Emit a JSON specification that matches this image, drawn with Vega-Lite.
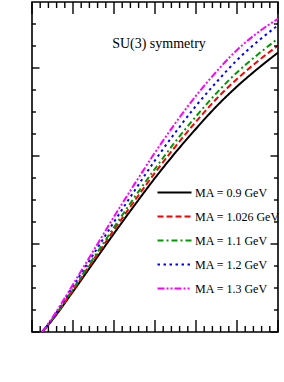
{
  "$schema": "https://vega.github.io/schema/vega-lite/v6.json",
  "width": 246,
  "height": 330,
  "autosize": "none",
  "padding": {"left": 32, "top": 2, "right": 6, "bottom": 50},
  "background": "white",
  "config": {
    "view": {"stroke": "black", "strokeWidth": 1.6},
    "axis": {"grid": false, "domain": false, "labelFont": "Liberation Serif", "titleFont": "Liberation Serif", "labelColor": "black", "titleColor": "black"}
  },
  "title": {"text": "SU(3) symmetry", "anchor": "middle", "frame": "group", "offset": -49, "dx": 4, "font": "Liberation Serif", "fontSize": 14, "fontWeight": "normal", "color": "black"},
  "datasets": {
    "xmaj": [{"t": 4}, {"t": 5}, {"t": 6}, {"t": 7}, {"t": 8}, {"t": 9}, {"t": 10}],
    "xmin": [{"t": 4.2}, {"t": 4.4}, {"t": 4.6}, {"t": 4.8}, {"t": 5.2}, {"t": 5.4}, {"t": 5.6}, {"t": 5.8}, {"t": 6.2}, {"t": 6.4}, {"t": 6.6}, {"t": 6.8}, {"t": 7.2}, {"t": 7.4}, {"t": 7.6}, {"t": 7.8}, {"t": 8.2}, {"t": 8.4}, {"t": 8.6}, {"t": 8.8}, {"t": 9.2}, {"t": 9.4}, {"t": 9.6}, {"t": 9.8}],
    "ymaj": [{"t": 0}, {"t": 0.2}, {"t": 0.4}, {"t": 0.6}],
    "ymin": [{"t": 0.05}, {"t": 0.1}, {"t": 0.15}, {"t": 0.25}, {"t": 0.3}, {"t": 0.35}, {"t": 0.45}, {"t": 0.5}, {"t": 0.55}, {"t": 0.65}, {"t": 0.7}],
    "curves": [
      {"E": 4.25, "sigma": 0.0, "MA": "MA = 0.9 GeV"},
      {"E": 4.5, "sigma": 0.028, "MA": "MA = 0.9 GeV"},
      {"E": 5.0, "sigma": 0.092, "MA": "MA = 0.9 GeV"},
      {"E": 5.5, "sigma": 0.158, "MA": "MA = 0.9 GeV"},
      {"E": 6.0, "sigma": 0.224, "MA": "MA = 0.9 GeV"},
      {"E": 6.5, "sigma": 0.288, "MA": "MA = 0.9 GeV"},
      {"E": 7.0, "sigma": 0.350, "MA": "MA = 0.9 GeV"},
      {"E": 7.5, "sigma": 0.408, "MA": "MA = 0.9 GeV"},
      {"E": 8.0, "sigma": 0.462, "MA": "MA = 0.9 GeV"},
      {"E": 8.5, "sigma": 0.513, "MA": "MA = 0.9 GeV"},
      {"E": 9.0, "sigma": 0.558, "MA": "MA = 0.9 GeV"},
      {"E": 9.5, "sigma": 0.598, "MA": "MA = 0.9 GeV"},
      {"E": 10.0, "sigma": 0.635, "MA": "MA = 0.9 GeV"},
      {"E": 4.25, "sigma": 0.0, "MA": "MA = 1.026 GeV"},
      {"E": 4.5, "sigma": 0.029, "MA": "MA = 1.026 GeV"},
      {"E": 5.0, "sigma": 0.095, "MA": "MA = 1.026 GeV"},
      {"E": 5.5, "sigma": 0.164, "MA": "MA = 1.026 GeV"},
      {"E": 6.0, "sigma": 0.232, "MA": "MA = 1.026 GeV"},
      {"E": 6.5, "sigma": 0.298, "MA": "MA = 1.026 GeV"},
      {"E": 7.0, "sigma": 0.362, "MA": "MA = 1.026 GeV"},
      {"E": 7.5, "sigma": 0.422, "MA": "MA = 1.026 GeV"},
      {"E": 8.0, "sigma": 0.478, "MA": "MA = 1.026 GeV"},
      {"E": 8.5, "sigma": 0.530, "MA": "MA = 1.026 GeV"},
      {"E": 9.0, "sigma": 0.575, "MA": "MA = 1.026 GeV"},
      {"E": 9.5, "sigma": 0.615, "MA": "MA = 1.026 GeV"},
      {"E": 10.0, "sigma": 0.651, "MA": "MA = 1.026 GeV"},
      {"E": 4.25, "sigma": 0.0, "MA": "MA = 1.1 GeV"},
      {"E": 4.5, "sigma": 0.030, "MA": "MA = 1.1 GeV"},
      {"E": 5.0, "sigma": 0.098, "MA": "MA = 1.1 GeV"},
      {"E": 5.5, "sigma": 0.168, "MA": "MA = 1.1 GeV"},
      {"E": 6.0, "sigma": 0.238, "MA": "MA = 1.1 GeV"},
      {"E": 6.5, "sigma": 0.306, "MA": "MA = 1.1 GeV"},
      {"E": 7.0, "sigma": 0.371, "MA": "MA = 1.1 GeV"},
      {"E": 7.5, "sigma": 0.433, "MA": "MA = 1.1 GeV"},
      {"E": 8.0, "sigma": 0.490, "MA": "MA = 1.1 GeV"},
      {"E": 8.5, "sigma": 0.543, "MA": "MA = 1.1 GeV"},
      {"E": 9.0, "sigma": 0.590, "MA": "MA = 1.1 GeV"},
      {"E": 9.5, "sigma": 0.630, "MA": "MA = 1.1 GeV"},
      {"E": 10.0, "sigma": 0.667, "MA": "MA = 1.1 GeV"},
      {"E": 4.25, "sigma": 0.0, "MA": "MA = 1.2 GeV"},
      {"E": 4.5, "sigma": 0.031, "MA": "MA = 1.2 GeV"},
      {"E": 5.0, "sigma": 0.104, "MA": "MA = 1.2 GeV"},
      {"E": 5.5, "sigma": 0.177, "MA": "MA = 1.2 GeV"},
      {"E": 6.0, "sigma": 0.250, "MA": "MA = 1.2 GeV"},
      {"E": 6.5, "sigma": 0.321, "MA": "MA = 1.2 GeV"},
      {"E": 7.0, "sigma": 0.390, "MA": "MA = 1.2 GeV"},
      {"E": 7.5, "sigma": 0.454, "MA": "MA = 1.2 GeV"},
      {"E": 8.0, "sigma": 0.514, "MA": "MA = 1.2 GeV"},
      {"E": 8.5, "sigma": 0.568, "MA": "MA = 1.2 GeV"},
      {"E": 9.0, "sigma": 0.618, "MA": "MA = 1.2 GeV"},
      {"E": 9.5, "sigma": 0.660, "MA": "MA = 1.2 GeV"},
      {"E": 10.0, "sigma": 0.697, "MA": "MA = 1.2 GeV"},
      {"E": 4.25, "sigma": 0.0, "MA": "MA = 1.3 GeV"},
      {"E": 4.5, "sigma": 0.033, "MA": "MA = 1.3 GeV"},
      {"E": 5.0, "sigma": 0.108, "MA": "MA = 1.3 GeV"},
      {"E": 5.5, "sigma": 0.185, "MA": "MA = 1.3 GeV"},
      {"E": 6.0, "sigma": 0.262, "MA": "MA = 1.3 GeV"},
      {"E": 6.5, "sigma": 0.336, "MA": "MA = 1.3 GeV"},
      {"E": 7.0, "sigma": 0.408, "MA": "MA = 1.3 GeV"},
      {"E": 7.5, "sigma": 0.475, "MA": "MA = 1.3 GeV"},
      {"E": 8.0, "sigma": 0.537, "MA": "MA = 1.3 GeV"},
      {"E": 8.5, "sigma": 0.592, "MA": "MA = 1.3 GeV"},
      {"E": 9.0, "sigma": 0.641, "MA": "MA = 1.3 GeV"},
      {"E": 9.5, "sigma": 0.680, "MA": "MA = 1.3 GeV"},
      {"E": 10.0, "sigma": 0.712, "MA": "MA = 1.3 GeV"}
    ]
  },
  "layer": [
    {
      "data": {"name": "curves"},
      "mark": {"type": "line", "interpolate": "monotone", "strokeWidth": 2},
      "encoding": {
        "x": {"field": "E", "type": "quantitative", "scale": {"domain": [4, 10], "nice": false, "zero": false},
          "axis": {"orient": "bottom", "values": [4, 5, 6, 7, 8, 9, 10], "format": "d", "ticks": false, "labelPadding": 4, "labelFontSize": 12, "title": "E\u03bd\u0304\u03c4 (GeV)", "titleFontSize": 16, "titleFontWeight": "normal", "titlePadding": 3}},
        "y": {"field": "sigma", "type": "quantitative", "scale": {"domain": [0, 0.75], "nice": false},
          "axis": {"orient": "left", "values": [0, 0.2, 0.4, 0.6], "format": "~g", "ticks": false, "labelPadding": 4, "labelFontSize": 12, "title": "\u03c3 (10\u207b\u2074\u2070 cm\u00b2)", "titleFontSize": 17, "titleFontWeight": "normal", "titleX": -21, "titleY": 163, "titleBaseline": "middle", "titleAngle": -90}},
        "color": {"field": "MA", "type": "nominal",
          "scale": {"domain": ["MA = 0.9 GeV", "MA = 1.026 GeV", "MA = 1.1 GeV", "MA = 1.2 GeV", "MA = 1.3 GeV"], "range": ["#000000", "#ff0000", "#009900", "#0000ff", "#ff00ff"]},
          "legend": {"orient": "none", "legendX": 133, "legendY": 181, "title": null, "symbolType": "M-2,0L2,0", "symbolSize": 289, "symbolStrokeWidth": 2, "symbolFillColor": "transparent", "labelFont": "Liberation Serif", "labelFontSize": 12, "labelColor": "black", "labelOffset": 11, "rowPadding": 8, "padding": 0}},
        "strokeDash": {"field": "MA", "type": "nominal",
          "scale": {"domain": ["MA = 0.9 GeV", "MA = 1.026 GeV", "MA = 1.1 GeV", "MA = 1.2 GeV", "MA = 1.3 GeV"], "range": [[1, 0], [6, 3], [6, 3, 2, 3], [2.5, 3.5], [7, 2, 2, 2, 2, 2]]},
          "legend": {"orient": "none", "legendX": 133, "legendY": 181, "title": null, "symbolType": "M-2,0L2,0", "symbolSize": 289, "symbolStrokeWidth": 2, "symbolFillColor": "transparent", "labelFont": "Liberation Serif", "labelFontSize": 12, "labelColor": "black", "labelOffset": 11, "rowPadding": 8, "padding": 0}}
      }
    },
    {
      "data": {"name": "xmaj"},
      "mark": {"type": "tick", "orient": "vertical", "size": 12, "thickness": 1.4, "color": "black", "opacity": 1, "yOffset": -6},
      "encoding": {"x": {"field": "t", "type": "quantitative", "axis": null}, "y": {"datum": 0, "type": "quantitative", "axis": null}}
    },
    {
      "data": {"name": "xmin"},
      "mark": {"type": "tick", "orient": "vertical", "size": 6, "thickness": 1.4, "color": "black", "opacity": 1, "yOffset": -3},
      "encoding": {"x": {"field": "t", "type": "quantitative", "axis": null}, "y": {"datum": 0, "type": "quantitative", "axis": null}}
    },
    {
      "data": {"name": "xmaj"},
      "mark": {"type": "tick", "orient": "vertical", "size": 12, "thickness": 1.4, "color": "black", "opacity": 1, "yOffset": 6},
      "encoding": {"x": {"field": "t", "type": "quantitative", "axis": null}, "y": {"datum": 0.75, "type": "quantitative", "axis": null}}
    },
    {
      "data": {"name": "xmin"},
      "mark": {"type": "tick", "orient": "vertical", "size": 6, "thickness": 1.4, "color": "black", "opacity": 1, "yOffset": 3},
      "encoding": {"x": {"field": "t", "type": "quantitative", "axis": null}, "y": {"datum": 0.75, "type": "quantitative", "axis": null}}
    },
    {
      "data": {"name": "ymaj"},
      "mark": {"type": "tick", "orient": "horizontal", "size": 7.5, "thickness": 1.4, "color": "black", "opacity": 1, "xOffset": 3.75},
      "encoding": {"y": {"field": "t", "type": "quantitative", "axis": null}, "x": {"datum": 4, "type": "quantitative", "axis": null}}
    },
    {
      "data": {"name": "ymin"},
      "mark": {"type": "tick", "orient": "horizontal", "size": 4, "thickness": 1.4, "color": "black", "opacity": 1, "xOffset": 2},
      "encoding": {"y": {"field": "t", "type": "quantitative", "axis": null}, "x": {"datum": 4, "type": "quantitative", "axis": null}}
    },
    {
      "data": {"name": "ymaj"},
      "mark": {"type": "tick", "orient": "horizontal", "size": 7.5, "thickness": 1.4, "color": "black", "opacity": 1, "xOffset": -3.75},
      "encoding": {"y": {"field": "t", "type": "quantitative", "axis": null}, "x": {"datum": 10, "type": "quantitative", "axis": null}}
    },
    {
      "data": {"name": "ymin"},
      "mark": {"type": "tick", "orient": "horizontal", "size": 4, "thickness": 1.4, "color": "black", "opacity": 1, "xOffset": -2},
      "encoding": {"y": {"field": "t", "type": "quantitative", "axis": null}, "x": {"datum": 10, "type": "quantitative", "axis": null}}
    }
  ]
}
